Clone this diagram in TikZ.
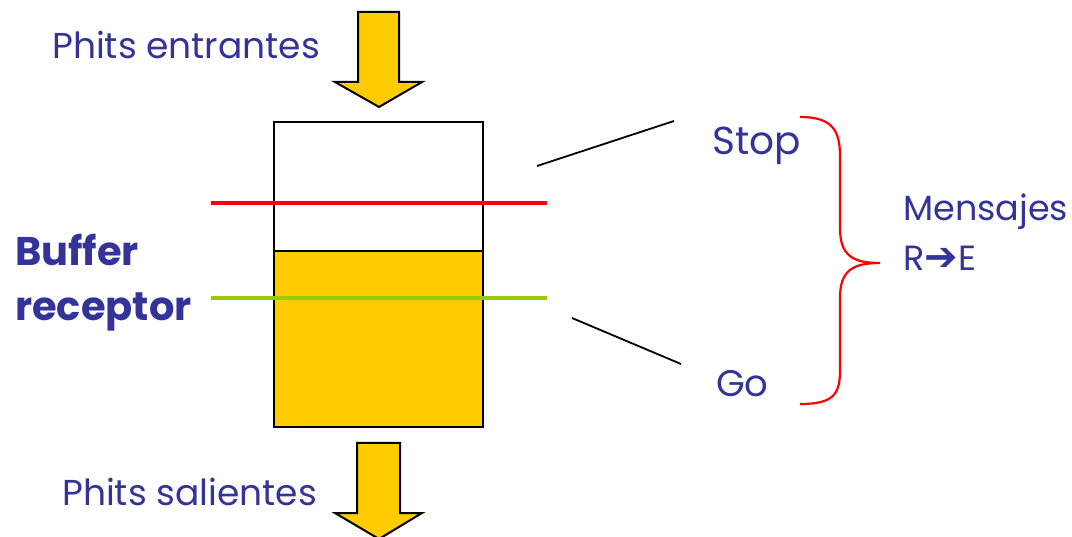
\documentclass[tikz,border=0pt]{standalone}
\usepackage{fontspec}
\setmainfont{Poppins}
\newfontfamily\symfont{DejaVu Sans}
\definecolor{txt}{HTML}{333399}
\definecolor{gold}{HTML}{FFCC00}
\definecolor{bred}{HTML}{FF0000}
\definecolor{bgreen}{HTML}{99CC00}
\begin{document}
\begin{tikzpicture}[x=1pt,y=-1pt,
  lbl/.style={text=txt,inner sep=0pt,anchor=west,font=\fontsize{35}{40}\selectfont},
  blbl/.style={lbl,font=\fontsize{40}{46}\selectfont\bfseries},
  flow/.style={draw=black,fill=gold,line width=2pt,line join=miter},
  level/.style={line width=4pt},
  pointer/.style={draw=black,line width=1.8pt}]
\useasboundingbox (0,0) rectangle (1072,537);
% buffer
\fill[gold] (274,251) rectangle (483,427);
\node (buf) [draw=black,line width=1.8pt,minimum width=209pt,minimum height=305pt,inner sep=0pt] at (378.5,274.5) {};
\draw[line width=1.8pt] (buf.west |- 0,251) -- (buf.east |- 0,251);
\draw[level,bred] (211,203) -- (547,203);
\draw[level,bgreen] (211,298) -- (547,298);
% arrows
\path[flow] (358,12) -- (399,12) -- (399,82) -- (422,82) -- (379,107) -- (335,82) -- (358,82) -- cycle;
\path[flow] (357,443) -- (400,443) -- (400,513) -- (422,513) -- (379,539) -- (335,513) -- (357,513) -- cycle;
% labels
\node[lbl,font=\fontsize{36}{40}\selectfont] (in) at (52,45) {Phits entrantes};
\node[lbl,font=\fontsize{36}{40}\selectfont] (out) at (62,492) {Phits salientes};
\node[blbl] (b1) at (15,250) {Buffer};
\node[blbl] (b2) at (15,312) {receptor};
\node[lbl,font=\fontsize{39}{44}\selectfont] (stop) at (712,146) {Stop};
\node[lbl,font=\fontsize{37}{44}\selectfont] (go) at (716,384) {Go};
\node[lbl] (msg) at (903,212) {Mensajes};
\node[lbl] (re) at (903,258) {R{\symfont\bfseries\fontsize{40}{40}\selectfont ➔}E};
% pointers
\coordinate (p1) at (537,166);
\coordinate (s1) at (674,121);
\coordinate (p2) at (572,318);
\coordinate (g1) at (681,364);
\draw[pointer] (p1) -- (s1);
\draw[pointer] (p2) -- (g1);
% brace
\draw[bred,line width=2.2pt] (800,117) .. controls (834,117) and (840,132) .. (840,157) -- (840,228)
  .. controls (840,255) and (852,263) .. (880,263)
  .. controls (852,263) and (840,271) .. (840,298) -- (840,370)
  .. controls (840,394) and (834,404) .. (800,404);
\end{tikzpicture}
\end{document}
